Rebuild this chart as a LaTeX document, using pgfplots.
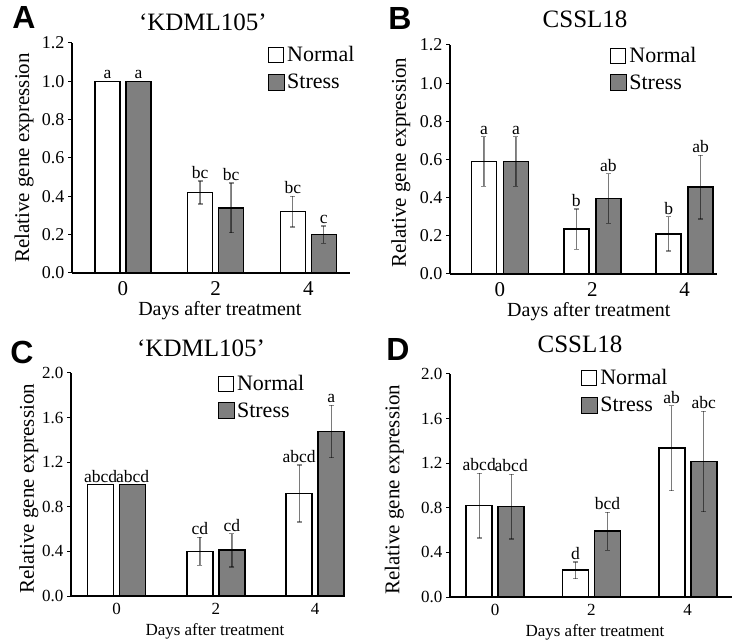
\documentclass[border=0pt]{standalone}
\usepackage{fontspec}
\setmainfont{Liberation Serif}
\newfontfamily\panelfont{Liberation Sans}
\usepackage{pgfplots}
\usepackage{pgfplotstable}
\pgfplotsset{compat=1.18}

\definecolor{stressgray}{HTML}{7F7F7F}

% pos: bar group position, n/s: Normal/Stress means, ne/se: errors, nl/sl: letters
\pgfplotstableread{
pos n ne nl s se sl
0 1.00 0 a 1.00 0 a
1 0.42 0.06 bc 0.34 0.13 bc
2 0.32 0.08 bc 0.20 0.045 c
}\tabA
\pgfplotstableread{
pos n ne nl s se sl
0 0.59 0.13 a 0.59 0.13 a
1 0.235 0.105 b 0.395 0.13 ab
2 0.21 0.09 b 0.455 0.167 ab
}\tabB
\pgfplotstableread{
pos n ne nl s se sl
0 1.00 0 abcd 1.00 0 abcd
1 0.40 0.125 cd 0.41 0.15 cd
2 0.92 0.255 abcd 1.475 0.235 a
}\tabC
\pgfplotstableread{
pos n ne nl s se sl
0 0.82 0.29 abcd 0.81 0.29 abcd
1 0.24 0.075 d 0.59 0.17 bcd
2 1.335 0.38 ab 1.215 0.45 abc
}\tabD

\pgfplotsset{
  panel/.style={
    scale only axis, clip=false, ybar,
    axis x line*=bottom, axis y line*=left,
    axis line style={-, line width=1.4bp},
    ymin=0,
    xtick={0,1,2}, xticklabels={0,2,4},
    x tick style={draw=none},
    y tick style={line width=1bp, black},
    tick align=outside, major tick length=4bp,
    yticklabel style={/pgf/number format/fixed, /pgf/number format/precision=1,
      /pgf/number format/fixed zerofill, /pgf/number format/assume math mode=true},
    legend cell align=left,
    legend style={draw=none, fill=none, inner sep=0pt, row sep=7bp,
      font=\fontsize{22bp}{24bp}\selectfont},
    every axis y label/.append style={anchor=center},
    every axis x label/.append style={anchor=center, inner sep=1bp},
    title style={anchor=center, font=\fontsize{25bp}{27bp}\selectfont},
  },
  % letters sit on top of the error bar: #1 = error column
  lab/.style={nodes near coords, point meta=explicit symbolic,
    visualization depends on={\thisrow{#1} \as \myerr},
    every node near coord/.append style={anchor=south, inner sep=1.5bp,
      yshift=\myerr*\yunit, font=\fontsize{17.5bp}{19bp}\selectfont}},
  errs/.style={
    error bars/y dir=both, error bars/y explicit,
    error bars/error bar style={black, draw opacity=0.45, line width=1.3bp},
    error bars/error mark options={rotate=90, mark size=2.5bp, black, draw opacity=0.45, line width=1.3bp}},
  barN/.style={bar width=#1, draw=black, fill=white, line width=1.6bp, errs, lab=ne,
    legend image code/.code={\draw[black, fill=white, line width=1bp] (0bp,-7.5bp) rectangle (15bp,7.5bp);}},
  barS/.style={bar width=#1, draw=black, fill=stressgray, line width=1.6bp, errs, lab=se,
    legend image code/.code={\draw[black, fill=stressgray, line width=1bp] (0bp,-8bp) rectangle (16bp,8bp);}},
}

\begin{document}
\begin{tikzpicture}
\useasboundingbox (0,0) rectangle (740bp,642bp);

% ---------- A ----------
\def\yunit{191.67bp}
\begin{axis}[panel, at={(72bp,369bp)}, anchor=south west,
  width=278bp, height=230bp, xmin=-0.55, xmax=2.45, ymax=1.2,
  ytick={0,0.2,...,1.2},
  xticklabel style={inner sep=1bp, yshift=-3bp, font=\fontsize{21bp}{23bp}\selectfont},
  yticklabel style={font=\fontsize{18bp}{20bp}\selectfont},
  title={`KDML105'}, title style={at={(axis description cs:0.471,1.065)}},
  xlabel={Days after treatment}, ylabel={Relative gene expression},
  xlabel style={at={(axis description cs:0.532,-0.165)}, font=\fontsize{20bp}{22bp}\selectfont},
  ylabel style={at={(axis description cs:-0.172,0.5)}, font=\fontsize{21bp}{23bp}\selectfont},
  legend style={at={(0.705,0.995)}, anchor=north west}]
\addplot[barN=25bp, bar shift=-15.5bp] table[x=pos, y=n, y error=ne, meta=nl] {\tabA};
\addplot[barS=25bp, bar shift=15.5bp] table[x=pos, y=s, y error=se, meta=sl] {\tabA};
\legend{Normal, Stress}
\end{axis}

% ---------- B ----------
\def\yunit{190.83bp}
\begin{axis}[panel, at={(450bp,368bp)}, anchor=south west,
  width=267bp, height=229bp, xmin=-0.54, xmax=2.35, ymax=1.2,
  ytick={0,0.2,...,1.2},
  xticklabel style={inner sep=1bp, yshift=-3bp, font=\fontsize{21bp}{23bp}\selectfont},
  yticklabel style={font=\fontsize{18bp}{20bp}\selectfont},
  title={CSSL18}, title style={at={(axis description cs:0.506,1.085)}},
  xlabel={Days after treatment}, ylabel={Relative gene expression},
  xlabel style={at={(axis description cs:0.52,-0.166)}, font=\fontsize{20bp}{22bp}\selectfont},
  ylabel style={at={(axis description cs:-0.184,0.485)}, font=\fontsize{21bp}{23bp}\selectfont},
  legend style={at={(0.60,1.0)}, anchor=north west}]
\addplot[barN=25bp, bar shift=-16bp] table[x=pos, y=n, y error=ne, meta=nl] {\tabB};
\addplot[barS=25bp, bar shift=16bp] table[x=pos, y=s, y error=se, meta=sl] {\tabB};
\legend{Normal, Stress}
\end{axis}

% ---------- C ----------
\def\yunit{111.5bp}
\begin{axis}[panel, at={(71bp,46bp)}, anchor=south west,
  width=272bp, height=223bp, xmin=-0.46, xmax=2.28, ymax=2.0,
  ytick={0,0.4,...,2.0},
  xticklabel style={font=\fontsize{17bp}{19bp}\selectfont},
  yticklabel style={font=\fontsize{17bp}{19bp}\selectfont},
  title={`KDML105'}, title style={at={(axis description cs:0.478,1.085)}},
  xlabel={Days after treatment}, ylabel={Relative gene expression},
  xlabel style={at={(axis description cs:0.529,-0.157)}, font=\fontsize{17bp}{19bp}\selectfont},
  ylabel style={at={(axis description cs:-0.155,0.48)}, font=\fontsize{21bp}{23bp}\selectfont},
  legend style={at={(0.54,1.0)}, anchor=north west}]
\addplot[barN=26bp, bar shift=-16bp] table[x=pos, y=n, y error=ne, meta=nl] {\tabC};
\addplot[barS=26bp, bar shift=16bp] table[x=pos, y=s, y error=se, meta=sl] {\tabC};
\legend{Normal, Stress}
\end{axis}

% ---------- D ----------
\def\yunit{111.5bp}
\begin{axis}[panel, at={(450bp,45bp)}, anchor=south west,
  width=282bp, height=223bp, xmin=-0.47, xmax=2.46, ymax=2.0,
  ytick={0,0.4,...,2.0},
  xticklabel style={font=\fontsize{17bp}{19bp}\selectfont},
  yticklabel style={font=\fontsize{17bp}{19bp}\selectfont},
  title={CSSL18}, title style={at={(axis description cs:0.461,1.105)}},
  xlabel={Days after treatment}, ylabel={Relative gene expression},
  xlabel style={at={(axis description cs:0.514,-0.157)}, font=\fontsize{17bp}{19bp}\selectfont},
  ylabel style={at={(axis description cs:-0.197,0.48)}, font=\fontsize{21bp}{23bp}\selectfont},
  legend style={at={(0.465,1.03)}, anchor=north west}]
\addplot[barN=26bp, bar shift=-16bp] table[x=pos, y=n, y error=ne, meta=nl] {\tabD};
\addplot[barS=26bp, bar shift=16bp] table[x=pos, y=s, y error=se, meta=sl] {\tabD};
\legend{Normal, Stress}
\end{axis}

% panel letters
\node[font=\panelfont\bfseries\fontsize{32bp}{34bp}\selectfont] at (24bp,625bp) {A};
\node[font=\panelfont\bfseries\fontsize{32bp}{34bp}\selectfont] at (400bp,624bp) {B};
\node[font=\panelfont\bfseries\fontsize{32bp}{34bp}\selectfont] at (22bp,290bp) {C};
\node[font=\panelfont\bfseries\fontsize{32bp}{34bp}\selectfont] at (398bp,293bp) {D};
\end{tikzpicture}
\end{document}
